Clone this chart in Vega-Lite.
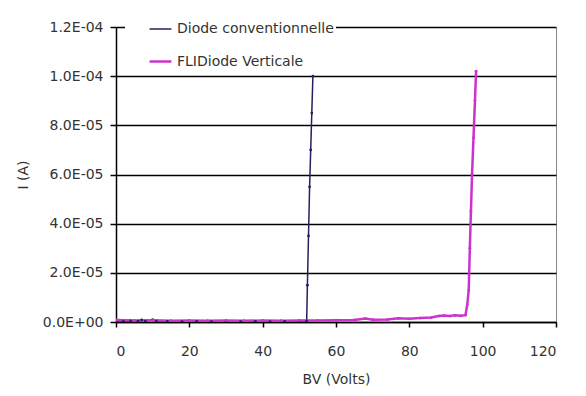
{
  "$schema": "https://vega.github.io/schema/vega-lite/v6.json",
  "width": 440,
  "height": 295,
  "autosize": {"type": "none"},
  "padding": {"left": 116, "top": 27, "right": 30, "bottom": 74},
  "background": "white",
  "config": {
    "font": "DejaVu Sans",
    "view": {"stroke": "#888888", "strokeWidth": 1}
  },
  "data": {
    "values": [
      {"s": "Diode conventionnelle", "v": 0, "i": 0},
      {"s": "Diode conventionnelle", "v": 2, "i": 2e-7},
      {"s": "Diode conventionnelle", "v": 4, "i": 4e-7},
      {"s": "Diode conventionnelle", "v": 6, "i": 3e-7},
      {"s": "Diode conventionnelle", "v": 7, "i": 8e-7},
      {"s": "Diode conventionnelle", "v": 8, "i": 3e-7},
      {"s": "Diode conventionnelle", "v": 10, "i": 9e-7},
      {"s": "Diode conventionnelle", "v": 11, "i": 3e-7},
      {"s": "Diode conventionnelle", "v": 14, "i": 2e-7},
      {"s": "Diode conventionnelle", "v": 18, "i": 1e-7},
      {"s": "Diode conventionnelle", "v": 22, "i": 2e-7},
      {"s": "Diode conventionnelle", "v": 26, "i": 1e-7},
      {"s": "Diode conventionnelle", "v": 30, "i": 2e-7},
      {"s": "Diode conventionnelle", "v": 34, "i": 1e-7},
      {"s": "Diode conventionnelle", "v": 38, "i": 2e-7},
      {"s": "Diode conventionnelle", "v": 42, "i": 1e-7},
      {"s": "Diode conventionnelle", "v": 46, "i": 2e-7},
      {"s": "Diode conventionnelle", "v": 50, "i": 2e-7},
      {"s": "Diode conventionnelle", "v": 52, "i": 4e-7},
      {"s": "Diode conventionnelle", "v": 52.2, "i": 1.5e-5},
      {"s": "Diode conventionnelle", "v": 52.5, "i": 3.5e-5},
      {"s": "Diode conventionnelle", "v": 52.8, "i": 5.5e-5},
      {"s": "Diode conventionnelle", "v": 53.1, "i": 7e-5},
      {"s": "Diode conventionnelle", "v": 53.4, "i": 8.5e-5},
      {"s": "Diode conventionnelle", "v": 53.7, "i": 1.0e-4},
      {"s": "FLIDiode Verticale", "v": 0, "i": 8e-7},
      {"s": "FLIDiode Verticale", "v": 5, "i": 6e-7},
      {"s": "FLIDiode Verticale", "v": 10, "i": 7e-7},
      {"s": "FLIDiode Verticale", "v": 15, "i": 5e-7},
      {"s": "FLIDiode Verticale", "v": 20, "i": 6e-7},
      {"s": "FLIDiode Verticale", "v": 25, "i": 5e-7},
      {"s": "FLIDiode Verticale", "v": 30, "i": 6e-7},
      {"s": "FLIDiode Verticale", "v": 35, "i": 5e-7},
      {"s": "FLIDiode Verticale", "v": 40, "i": 6e-7},
      {"s": "FLIDiode Verticale", "v": 45, "i": 5e-7},
      {"s": "FLIDiode Verticale", "v": 50, "i": 6e-7},
      {"s": "FLIDiode Verticale", "v": 55, "i": 6e-7},
      {"s": "FLIDiode Verticale", "v": 60, "i": 7e-7},
      {"s": "FLIDiode Verticale", "v": 65, "i": 8e-7},
      {"s": "FLIDiode Verticale", "v": 68, "i": 1.4e-6},
      {"s": "FLIDiode Verticale", "v": 70, "i": 9e-7},
      {"s": "FLIDiode Verticale", "v": 74, "i": 1.0e-6},
      {"s": "FLIDiode Verticale", "v": 77, "i": 1.5e-6},
      {"s": "FLIDiode Verticale", "v": 80, "i": 1.3e-6},
      {"s": "FLIDiode Verticale", "v": 83, "i": 1.6e-6},
      {"s": "FLIDiode Verticale", "v": 86, "i": 1.8e-6},
      {"s": "FLIDiode Verticale", "v": 88, "i": 2.4e-6},
      {"s": "FLIDiode Verticale", "v": 89.5, "i": 2.6e-6},
      {"s": "FLIDiode Verticale", "v": 91, "i": 2.4e-6},
      {"s": "FLIDiode Verticale", "v": 92.5, "i": 2.7e-6},
      {"s": "FLIDiode Verticale", "v": 94, "i": 2.5e-6},
      {"s": "FLIDiode Verticale", "v": 95.3, "i": 2.8e-6},
      {"s": "FLIDiode Verticale", "v": 95.8, "i": 7e-6},
      {"s": "FLIDiode Verticale", "v": 96.2, "i": 1.3e-5},
      {"s": "FLIDiode Verticale", "v": 96.5, "i": 3e-5},
      {"s": "FLIDiode Verticale", "v": 96.8, "i": 4.5e-5},
      {"s": "FLIDiode Verticale", "v": 97.1, "i": 6e-5},
      {"s": "FLIDiode Verticale", "v": 97.5, "i": 7.5e-5},
      {"s": "FLIDiode Verticale", "v": 97.9, "i": 9e-5},
      {"s": "FLIDiode Verticale", "v": 98.2, "i": 1.02e-4}
    ]
  },
  "mark": {"type": "line", "point": {"filled": true, "size": 8}, "clip": true},
  "encoding": {
    "x": {
      "field": "v", "type": "quantitative",
      "scale": {"domain": [0, 120], "nice": false},
      "axis": {
        "title": "BV (Volts)", "values": [0, 20, 40, 60, 80, 100, 120],
        "grid": false, "domainColor": "black", "domainWidth": 1.5,
        "tickColor": "black", "tickSize": 5, "tickWidth": 1.5,
        "labelFontSize": 14, "labelColor": "#333333", "labelPadding": 17,
        "titleFontSize": 14, "titleFontWeight": "normal", "titleColor": "#333333", "titlePadding": 14
      }
    },
    "y": {
      "field": "i", "type": "quantitative",
      "scale": {"domain": [0, 0.00012], "nice": false},
      "axis": {
        "title": "I (A)", "values": [0, 0.00002, 0.00004, 0.00006, 0.00008, 0.0001, 0.00012],
        "labelExpr": "replace(replace(upper(format(datum.value, '.1e')), 'E-', 'E-0'), 'E+0', 'E+00')",
        "grid": true, "gridColor": "black", "gridWidth": 1.5, "gridOpacity": 1,
        "domainColor": "black", "domainWidth": 1.5,
        "tickColor": "black", "tickSize": 6, "tickWidth": 1.5,
        "labelFontSize": 14, "labelColor": "#333333", "labelPadding": 7,
        "titleFontSize": 14, "titleFontWeight": "normal", "titleColor": "#333333", "titlePadding": 12
      }
    },
    "color": {
      "field": "s", "type": "nominal",
      "scale": {"domain": ["Diode conventionnelle", "FLIDiode Verticale"], "range": ["#22225e", "#cc33cc"]},
      "legend": {
        "title": null, "orient": "none", "legendX": 9, "legendY": -12,
        "fillColor": "white", "padding": 2,
        "labelFontSize": 14, "labelColor": "#333333", "rowPadding": 13, "labelLimit": 400,
        "labelExpr": "datum.label + '\u00a0\u00a0\u00a0\u00a0\u00a0\u00a0\u00a0\u00a0\u00a0'",
        "symbolType": "stroke", "symbolStrokeWidth": 2, "symbolSize": 480, "symbolOffset": 21, "labelOffset": 4
      }
    },
    "strokeWidth": {
      "field": "s", "type": "nominal",
      "scale": {"domain": ["Diode conventionnelle", "FLIDiode Verticale"], "range": [1.5, 2.5]},
      "legend": null
    }
  }
}
